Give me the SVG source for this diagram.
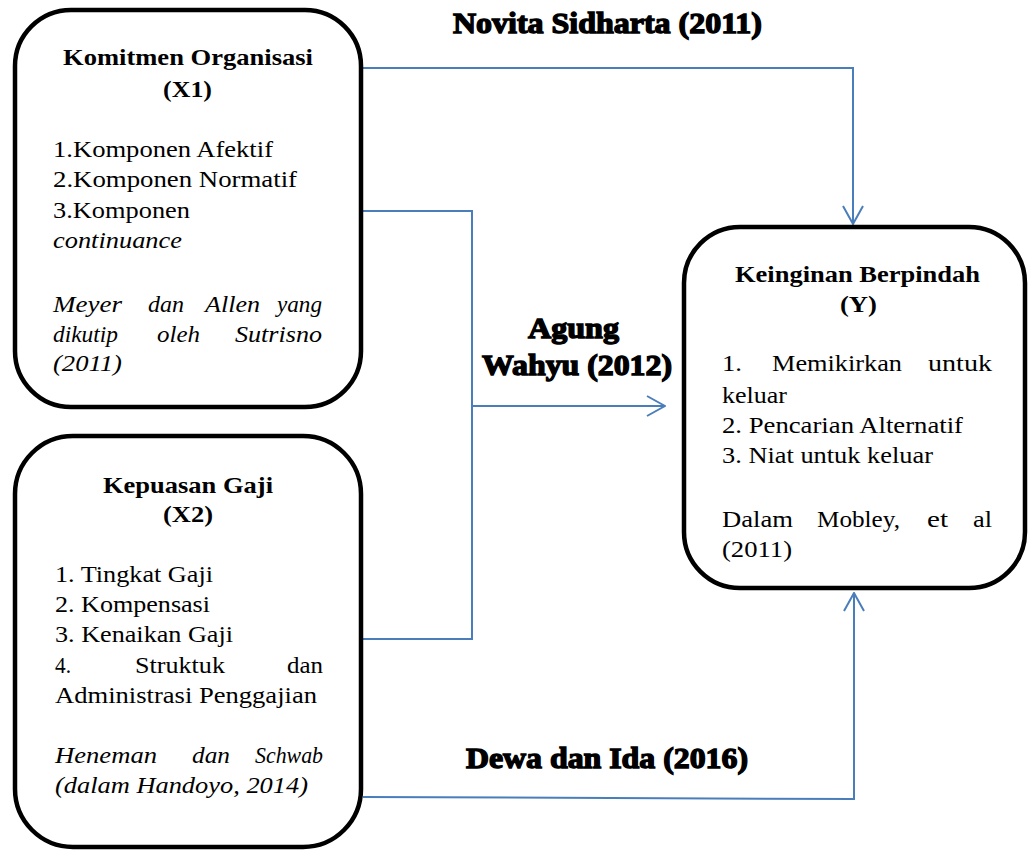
<svg xmlns="http://www.w3.org/2000/svg" width="1029" height="850" viewBox="0 0 1029 850">
<style>
.box{fill:#fff;stroke:#000;stroke-width:4.5}
.t{font-size:23px;fill:#000}
.b{font-weight:bold}
.i{font-style:italic}
.lbl{font-size:30px;font-weight:bold;fill:#000;stroke:#000;stroke-width:1.4}
.con{fill:none;stroke:#4A7EBB;stroke-width:2}
</style>
<defs>
<marker id="arr" viewBox="0 0 20 22" refX="19" refY="11" markerWidth="20" markerHeight="22" markerUnits="userSpaceOnUse" orient="auto">
<path d="M1,1 L19,11 L1,21" fill="none" stroke="#4A7EBB" stroke-width="2"/>
</marker>
</defs>
<rect width="1029" height="850" fill="#fff"/>
<g id="connectors">
<path class="con" d="M363,68 H853 V224" marker-end="url(#arr)"/>
<path class="con" d="M363,211 H472 V639 H362"/>
<path class="con" d="M472,406 H665" marker-end="url(#arr)"/>
<path class="con" d="M363,797 L854,799 V593" marker-end="url(#arr)"/>
</g>
<g id="labels" font-family="Liberation Serif, serif">
<text class="lbl" x="453" y="33" textLength="309" lengthAdjust="spacingAndGlyphs">Novita Sidharta (2011)</text>
<text class="lbl" x="528" y="338" textLength="91" lengthAdjust="spacingAndGlyphs">Agung</text>
<text class="lbl" x="482" y="375" textLength="190" lengthAdjust="spacingAndGlyphs">Wahyu (2012)</text>
<text class="lbl" x="466" y="768" textLength="282" lengthAdjust="spacingAndGlyphs">Dewa dan Ida (2016)</text>
</g>
<g id="node-x1" font-family="Liberation Serif, serif">
<rect class="box" x="15" y="10" width="346" height="397" rx="56" ry="56"/>
<text class="t b" x="63" y="65" textLength="250" lengthAdjust="spacingAndGlyphs">Komitmen Organisasi</text>
<text class="t b" x="163" y="97" textLength="49" lengthAdjust="spacingAndGlyphs">(X1)</text>
<text class="t" x="53" y="157" textLength="220" lengthAdjust="spacingAndGlyphs">1.Komponen Afektif</text>
<text class="t" x="53" y="187" textLength="244" lengthAdjust="spacingAndGlyphs">2.Komponen Normatif</text>
<text class="t" x="53" y="218" textLength="137" lengthAdjust="spacingAndGlyphs">3.Komponen</text>
<text class="t i" x="53" y="248" textLength="129" lengthAdjust="spacingAndGlyphs">continuance</text>
<text class="t i" x="53" y="312" textLength="69" lengthAdjust="spacingAndGlyphs">Meyer</text>
<text class="t i" x="148" y="312" textLength="36" lengthAdjust="spacingAndGlyphs">dan</text>
<text class="t i" x="205" y="312" textLength="55" lengthAdjust="spacingAndGlyphs">Allen</text>
<text class="t i" x="277" y="312" textLength="45" lengthAdjust="spacingAndGlyphs">yang</text>
<text class="t i" x="53" y="342" textLength="65" lengthAdjust="spacingAndGlyphs">dikutip</text>
<text class="t i" x="157" y="342" textLength="43" lengthAdjust="spacingAndGlyphs">oleh</text>
<text class="t i" x="235" y="342" textLength="87" lengthAdjust="spacingAndGlyphs">Sutrisno</text>
<text class="t i" x="53" y="371" textLength="69" lengthAdjust="spacingAndGlyphs">(2011)</text>
</g>
<g id="node-x2" font-family="Liberation Serif, serif">
<rect class="box" x="15" y="436" width="346" height="411" rx="58" ry="58"/>
<text class="t b" x="103" y="493" textLength="170" lengthAdjust="spacingAndGlyphs">Kepuasan Gaji</text>
<text class="t b" x="163" y="522" textLength="50" lengthAdjust="spacingAndGlyphs">(X2)</text>
<text class="t" x="55" y="582" textLength="158" lengthAdjust="spacingAndGlyphs">1. Tingkat Gaji</text>
<text class="t" x="55" y="612" textLength="155" lengthAdjust="spacingAndGlyphs">2. Kompensasi</text>
<text class="t" x="55" y="642" textLength="178" lengthAdjust="spacingAndGlyphs">3. Kenaikan Gaji</text>
<text class="t" x="55" y="673" textLength="16" lengthAdjust="spacingAndGlyphs">4.</text>
<text class="t" x="135" y="673" textLength="90" lengthAdjust="spacingAndGlyphs">Struktuk</text>
<text class="t" x="287" y="673" textLength="36" lengthAdjust="spacingAndGlyphs">dan</text>
<text class="t" x="55" y="703" textLength="262" lengthAdjust="spacingAndGlyphs">Administrasi Penggajian</text>
<text class="t i" x="55" y="763" textLength="102" lengthAdjust="spacingAndGlyphs">Heneman</text>
<text class="t i" x="192" y="763" textLength="38" lengthAdjust="spacingAndGlyphs">dan</text>
<text class="t i" x="255" y="763" textLength="68" lengthAdjust="spacingAndGlyphs">Schwab</text>
<text class="t i" x="55" y="793" textLength="253" lengthAdjust="spacingAndGlyphs">(dalam Handoyo, 2014)</text>
</g>
<g id="node-y" font-family="Liberation Serif, serif">
<rect class="box" x="684" y="227" width="341" height="361" rx="56" ry="56"/>
<text class="t b" x="735" y="282" textLength="245" lengthAdjust="spacingAndGlyphs">Keinginan Berpindah</text>
<text class="t b" x="840" y="312" textLength="37" lengthAdjust="spacingAndGlyphs">(Y)</text>
<text class="t" x="722" y="371" textLength="20" lengthAdjust="spacingAndGlyphs">1.</text>
<text class="t" x="772" y="371" textLength="130" lengthAdjust="spacingAndGlyphs">Memikirkan</text>
<text class="t" x="928" y="371" textLength="64" lengthAdjust="spacingAndGlyphs">untuk</text>
<text class="t" x="722" y="403" textLength="65" lengthAdjust="spacingAndGlyphs">keluar</text>
<text class="t" x="722" y="433" textLength="241" lengthAdjust="spacingAndGlyphs">2. Pencarian Alternatif</text>
<text class="t" x="722" y="463" textLength="211" lengthAdjust="spacingAndGlyphs">3. Niat untuk keluar</text>
<text class="t" x="722" y="527" textLength="71" lengthAdjust="spacingAndGlyphs">Dalam</text>
<text class="t" x="817" y="527" textLength="83" lengthAdjust="spacingAndGlyphs">Mobley,</text>
<text class="t" x="927" y="527" textLength="21" lengthAdjust="spacingAndGlyphs">et</text>
<text class="t" x="973" y="527" textLength="19" lengthAdjust="spacingAndGlyphs">al</text>
<text class="t" x="722" y="557" textLength="70" lengthAdjust="spacingAndGlyphs">(2011)</text>
</g>
</svg>
